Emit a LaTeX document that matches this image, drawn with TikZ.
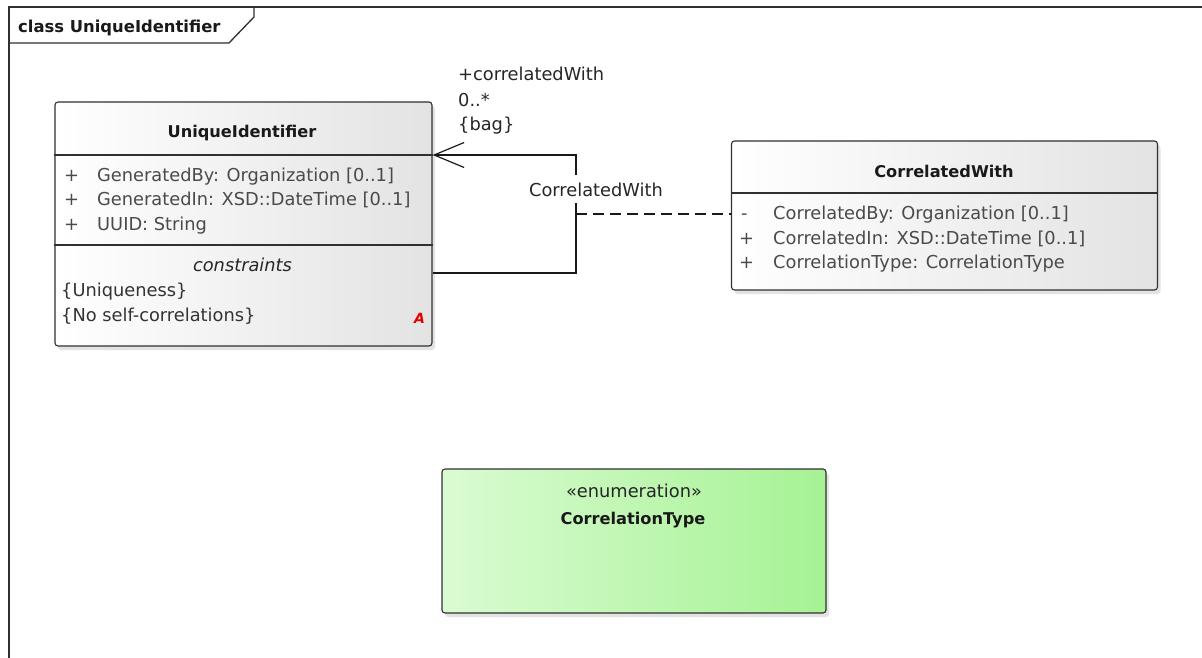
\documentclass[tikz,border=0pt]{standalone}
\usepackage{fontspec}
\setmainfont{DejaVu Sans}
\usetikzlibrary{arrows.meta,shadows,calc}
\definecolor{attrtext}{HTML}{4A4A4A}
\definecolor{edge}{HTML}{303030}
\definecolor{enumleft}{HTML}{DAFBD2}
\definecolor{enumright}{HTML}{A6F294}
\tikzset{
  umlbox/.style={draw=edge, line width=1.1pt, rounded corners=3pt,
    drop shadow={opacity=0.22, shadow xshift=3pt, shadow yshift=-4pt},
    inner sep=0pt},
  classbox/.style={umlbox, left color=white, right color=black!11},
  enumbox/.style={umlbox, left color=enumleft, right color=enumright},
  regtext/.style={font=\fontsize{17.8}{20}\selectfont, inner sep=0pt, anchor=base west},
  attr/.style={regtext, text=attrtext},
  titletext/.style={font=\fontsize{16.2}{19}\bfseries\selectfont, inner sep=0pt, anchor=base, text=black!90},
  divider/.style={draw=edge, line width=1.1pt},
  frameline/.style={draw=edge, line width=1.3pt},
  assoc/.style={draw=black!90, line width=1.2pt, -{Straight Barb[length=30pt, width=25pt, line width=1.2pt]}},
  dashconn/.style={draw=black!90, line width=1.2pt, dash pattern=on 11pt off 6pt},
}
\begin{document}
\begin{tikzpicture}[x=1pt, y=-1pt]
\useasboundingbox (0,0) rectangle (1202,658);
\fill[white] (0,0) rectangle (1202,658);

% diagram frame with its name tab
\draw[frameline] (1202,7) -- (9,7) -- (9,658);
\draw[frameline] (9,43) -- (229,43) -- (254,17) -- (254,7);
\node[titletext, font=\fontsize{16.4}{19}\bfseries\selectfont, anchor=base west] (frametitle) at (18,33) {class UniqueIdentifier};

% class UniqueIdentifier
\node[classbox, minimum width=377pt, minimum height=244pt] (ui) at (243.5,224) {};
\draw[divider] (ui.west |- 0,155) -- (ui.east |- 0,155);
\draw[divider] (ui.west |- 0,245) -- (ui.east |- 0,245);
\node[titletext] (uititle) at (242,138) {UniqueIdentifier};
\node[attr] (uiv1) at (64,181) {+};
\node[attr] (uia1) at (97,181) {GeneratedBy: Organization [0..1]};
\node[attr] (uiv2) at (64,205.5) {+};
\node[attr] (uia2) at (97,205.5) {GeneratedIn: XSD::DateTime [0..1]};
\node[attr] (uiv3) at (64,230) {+};
\node[attr] (uia3) at (97,230) {UUID: String};
\node[regtext, anchor=base, font=\fontsize{17.8}{20}\itshape\selectfont, text=black!85] (uicons) at (242.5,271) {constraints};
\node[attr, text=black!80] (uic1) at (61,296) {\{Uniqueness\}};
\node[attr, text=black!80] (uic2) at (61,321) {\{No self-correlations\}};
\node[font=\fontsize{14}{15}\bfseries\itshape\selectfont, text=red!90!black, inner sep=0pt] (uimark) at (419.5,318) {A};

% association class CorrelatedWith
\node[classbox, minimum width=426pt, minimum height=149pt] (cw) at (944.5,215.5) {};
\draw[divider] (cw.west |- 0,193) -- (cw.east |- 0,193);
\node[titletext] (cwtitle) at (944,177) {CorrelatedWith};
\node[attr] (cwv1) at (741,219) {-};
\node[attr] (cwa1) at (773,219) {CorrelatedBy: Organization [0..1]};
\node[attr] (cwv2) at (739,244) {+};
\node[attr] (cwa2) at (773,244) {CorrelatedIn: XSD::DateTime [0..1]};
\node[attr] (cwv3) at (739,268.5) {+};
\node[attr] (cwa3) at (773,268.5) {CorrelationType: CorrelationType};

% enumeration CorrelationType
\node[enumbox, minimum width=384pt, minimum height=144pt] (ct) at (634,541) {};
\node[regtext, anchor=base, text=black!85] (ctstereo) at (634,497) {«enumeration»};
\node[titletext] (cttitle) at (633,524) {CorrelationType};

% reflexive association on UniqueIdentifier
\coordinate (uiA) at (ui.east |- 0,155);
\coordinate (uiB) at (ui.east |- 0,273);
\coordinate (jTop) at (576,155);
\coordinate (jBot) at (576,273);
\coordinate (jMid) at (576,214);
\draw[assoc] (uiB) -- (jBot) -- (jTop) -- (uiA);
\draw[dashconn] (jMid) -- (cw.west |- jMid);
\node[regtext, anchor=base, fill=white, inner xsep=1pt, inner ysep=7pt, text=black!85] (assoclabel) at (596,196) {CorrelatedWith};

% role at the target end
\node[regtext, text=black!85] (role) at (458,81) {+correlatedWith};
\node[regtext, text=black!85] (mult) at (458,107) {0..*};
\node[regtext, text=black!85] (bag) at (458,131) {\{bag\}};
\end{tikzpicture}
\end{document}
